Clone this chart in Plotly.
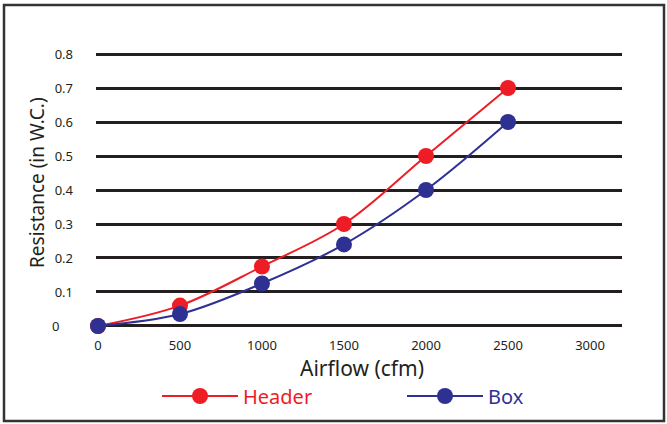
import plotly.graph_objects as go

airflow = [0, 500, 1000, 1500, 2000, 2500]
header = [0, 0.06, 0.175, 0.3, 0.5, 0.7]
box = [0, 0.035, 0.125, 0.24, 0.4, 0.6]
x_ticks = [0, 500, 1000, 1500, 2000, 2500, 3000]
y_ticks = [0, 0.1, 0.2, 0.3, 0.4, 0.5, 0.6, 0.7, 0.8]
x_title = "Airflow (cfm)"
y_title = "Resistance (in W.C.)"

W, H = 667, 424
L, R, T, B = 96, 45, 53, 97
pw, ph = W - L - R, H - T - B

def px(x):
    return (x - L) / pw

def py(y):
    return 1 - (y - T) / ph

RED = "#ee1c25"
BLUE = "#2e3192"
FONT = "Noto Sans"

fig = go.Figure()
fig.add_trace(go.Scatter(
    x=airflow, y=header, name="<span style='color:%s'>Header</span>" % RED,
    mode="lines+markers", line=dict(color=RED, width=2, shape="spline"),
    marker=dict(color=RED, size=16), cliponaxis=False, legend="legend"))
fig.add_trace(go.Scatter(
    x=airflow, y=box, name="<span style='color:%s'>Box</span>" % BLUE,
    mode="lines+markers", line=dict(color=BLUE, width=2, shape="spline"),
    marker=dict(color=BLUE, size=16), cliponaxis=False, legend="legend2"))

leg_common = dict(orientation="h", xref="container", yref="container",
                  xanchor="left", yanchor="middle",
                  font=dict(size=20, family=FONT),
                  itemwidth=76, bgcolor="rgba(0,0,0,0)")

y_text = [("%.1f" % v) if v else "0" + "\u00a0" * 4 for v in y_ticks]

fig.update_layout(
    width=W, height=H,
    margin=dict(l=L, r=R, t=T, b=B),
    paper_bgcolor="white", plot_bgcolor="white",
    font=dict(family=FONT, color="#231f20"),
    showlegend=True,
    legend=dict(x=157 / W, y=1 - 396 / H, **leg_common),
    legend2=dict(x=402 / W, y=1 - 396 / H, **leg_common),
    xaxis=dict(range=[-12, 3195], tickvals=x_ticks,
               ticktext=[str(v) for v in x_ticks], automargin=False,
               showgrid=False, zeroline=False, showline=False, ticks="",
               tickfont=dict(size=13, family=FONT), ticklabelstandoff=9),
    yaxis=dict(range=[-0.003, 0.803], tickvals=y_ticks,
               ticktext=y_text, automargin=False,
               showgrid=True, gridcolor="#231f20", gridwidth=2.5,
               zeroline=False, showline=False, ticks="",
               tickfont=dict(size=13, family=FONT), ticklabelstandoff=22),
    annotations=[
        dict(text=x_title, xref="paper", yref="paper",
             x=px(362), y=py(368), xanchor="center", yanchor="middle",
             showarrow=False, font=dict(size=21, family=FONT, color="#231f20")),
        dict(text=y_title, xref="paper", yref="paper", textangle=-90,
             x=px(37), y=py(183), xanchor="center", yanchor="middle",
             showarrow=False, font=dict(size=19, family=FONT, color="#231f20")),
    ],
    shapes=[dict(type="rect", xref="paper", yref="paper",
                 x0=px(4), x1=px(664), y0=py(5), y1=py(421),
                 line=dict(color="#333333", width=2.5), fillcolor="rgba(0,0,0,0)", layer="below")],
)

fig.write_html("out.html", config={"displayModeBar": False},
               post_script="document.body.style.margin='0';document.body.style.overflow='hidden';")
